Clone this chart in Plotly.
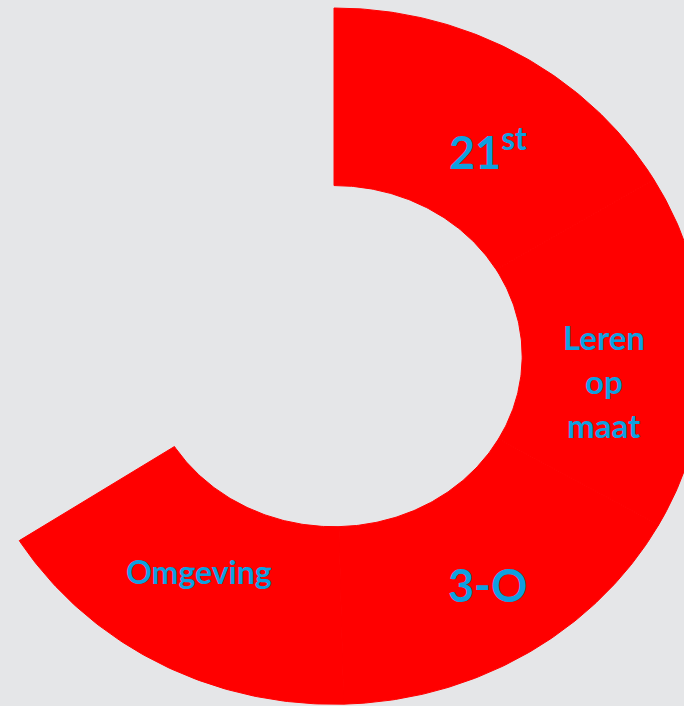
import numpy as np
import plotly.graph_objects as go

# ---- data ----
segment_labels = ["21<sup>st</sup>", "Leren<br>op<br>maat", "3-O", "Omgeving"]
segment_degrees = [59.5, 59.5, 59.5, 59.5]   # four equal parts of the arc

# ---- styling / layout ----
RED = "#ff0000"
BLUE = "#0ea0e0"
BG = "#e5e6e8"
HOLE_X = 0.507      # inner radius relative to outer, horizontal
HOLE_Y = 0.490      # inner radius relative to outer, vertical
label_angle = [34.8, 95.6, 147.8, 210.4]   # degrees clockwise from 12 o'clock
label_radius = [0.726, 0.732, 0.777, 0.718]
label_size = [45, 33, 45, 32]
LINE_GAP = 44       # px between lines of wrapped labels

fig = go.Figure()

start = 0.0
for lab, v in zip(segment_labels, segment_degrees):
    end = start + v
    t = np.radians(np.linspace(start, end, 90))
    xo, yo = np.sin(t), np.cos(t)
    xi, yi = HOLE_X * np.sin(t[::-1]), HOLE_Y * np.cos(t[::-1])
    xs = np.concatenate([xo, xi, xo[:1]])
    ys = np.concatenate([yo, yi, yo[:1]])
    fig.add_trace(go.Scatter(x=xs, y=ys, mode="lines", fill="toself",
                             fillcolor=RED, line=dict(color=RED, width=1),
                             hoverinfo="skip", showlegend=False))
    start = end

for lab, a, r, s in zip(segment_labels, label_angle, label_radius, label_size):
    ar = np.radians(a)
    lines = lab.split("<br>")
    n = len(lines)
    for k, line in enumerate(lines):
        fig.add_annotation(x=r * np.sin(ar), y=r * np.cos(ar), text=line,
                           showarrow=False, xanchor="center", yanchor="middle",
                           yshift=((n - 1) / 2 - k) * LINE_GAP,
                           font=dict(family="Lato", size=s, color=BLUE, weight="bold"))

fig.update_layout(
    width=684, height=706,
    margin=dict(l=0, r=0, t=0, b=0),
    paper_bgcolor=BG, plot_bgcolor=BG,
    xaxis=dict(range=[-0.900, 0.943], visible=False, fixedrange=True),
    yaxis=dict(range=[-1.005, 1.023], visible=False, fixedrange=True),
    showlegend=False,
)

fig.write_html("out.html", config={"displayModeBar": False},
               post_script="document.body.style.margin='0';document.body.style.background='%s';" % BG)
